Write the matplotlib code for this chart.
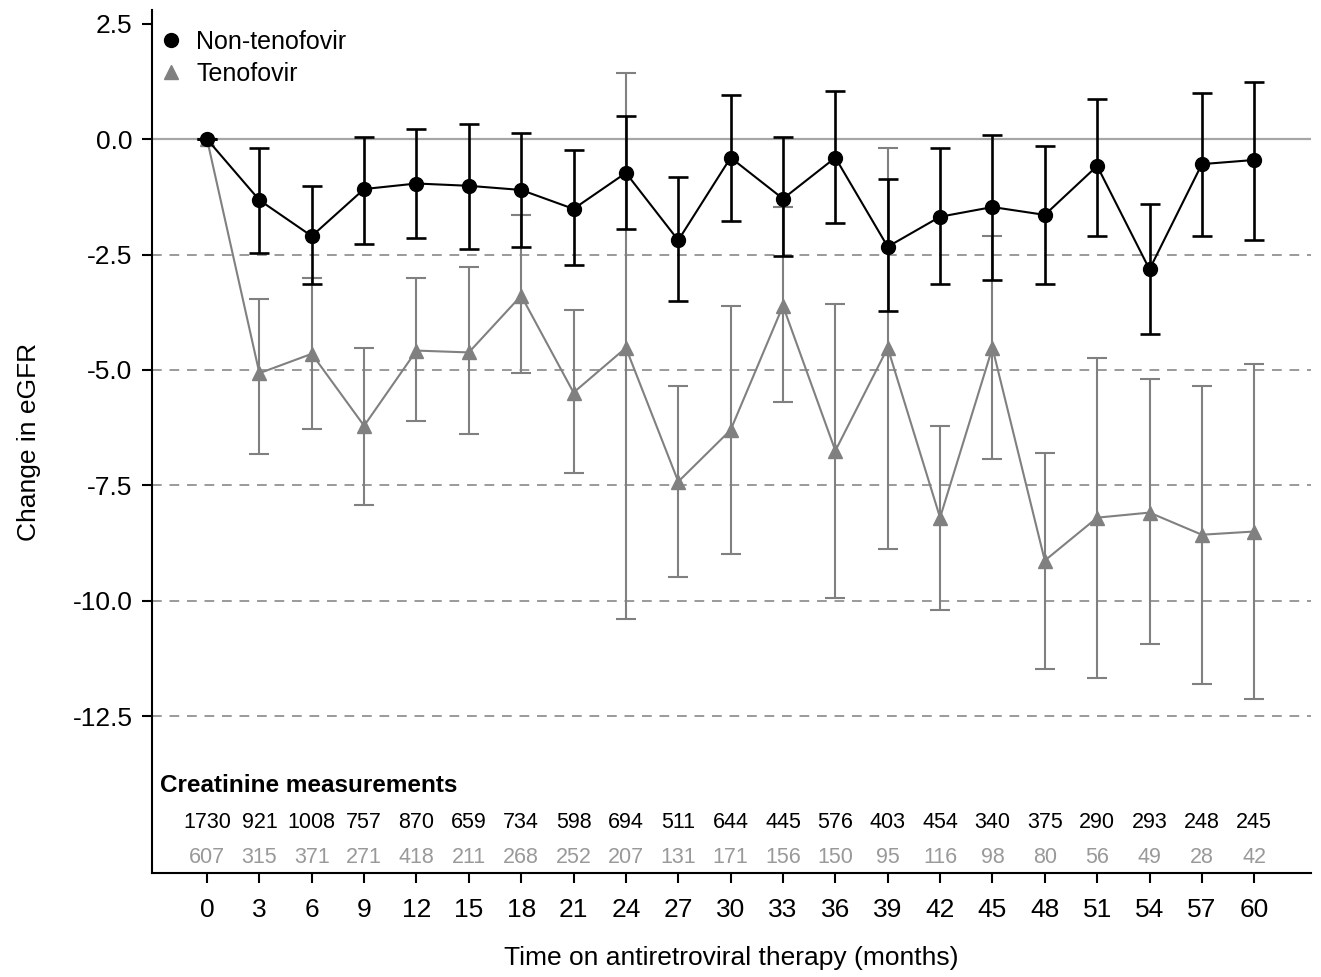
import numpy as np
import matplotlib.pyplot as plt
from matplotlib.lines import Line2D

plt.rcParams['font.family'] = ['Liberation Sans', 'DejaVu Sans']

# months on ART
months = [0, 3, 6, 9, 12, 15, 18, 21, 24, 27, 30, 33, 36, 39, 42, 45, 48, 51, 54, 57, 60]

# non-tenofovir: mean change in eGFR and CI limits
non_mean = [0.0, -1.32, -2.10, -1.08, -0.96, -1.01, -1.10, -1.51, -0.73, -2.19, -0.40,
            -1.29, -0.40, -2.33, -1.68, -1.47, -1.64, -0.58, -2.82, -0.54, -0.45]
non_upper = [0.0, -0.19, -1.01, 0.05, 0.23, 0.32, 0.13, -0.24, 0.50, -0.81, 0.95,
             0.05, 1.05, -0.87, -0.18, 0.09, -0.15, 0.87, -1.41, 1.00, 1.23]
non_lower = [0.0, -2.46, -3.14, -2.28, -2.15, -2.37, -2.33, -2.73, -1.95, -3.50, -1.77,
             -2.54, -1.81, -3.72, -3.14, -3.05, -3.14, -2.10, -4.22, -2.10, -2.19]

# tenofovir
ten_mean = [0.0, -5.07, -4.65, -6.21, -4.58, -4.62, -3.39, -5.49, -4.52, -7.42, -6.30,
            -3.61, -6.75, -4.52, -8.20, -4.52, -9.13, -8.20, -8.09, -8.57, -8.50]
ten_upper = [0.0, -3.46, -3.00, -4.52, -3.00, -2.77, -1.64, -3.70, 1.43, -5.34, -3.61,
             -1.47, -3.57, -0.19, -6.21, -2.10, -6.80, -4.74, -5.19, -5.34, -4.87]
ten_lower = [0.0, -6.82, -6.28, -7.92, -6.10, -6.38, -5.06, -7.23, -10.39, -9.48, -8.98,
             -5.69, -9.94, -8.87, -10.20, -6.93, -11.47, -11.67, -10.93, -11.80, -12.12]

# number of creatinine measurements
n_non = [1730, 921, 1008, 757, 870, 659, 734, 598, 694, 511, 644, 445, 576, 403, 454,
         340, 375, 290, 293, 248, 245]
n_ten = [607, 315, 371, 271, 418, 211, 268, 252, 207, 131, 171, 156, 150, 95, 116,
         98, 80, 56, 49, 28, 42]

x = np.array(months)
gray = '#808080'

fig = plt.figure(figsize=(13.21, 9.77), dpi=100)
ax = fig.add_axes([0.1151, 0.1064, 0.8773, 0.8834])

# reference lines
ax.axhline(0, color='#a6a6a6', lw=1.6, zorder=1)
for yv in [-2.5, -5, -7.5, -10, -12.5]:
    ax.axhline(yv, color='#9a9a9a', lw=1.4, ls=(0, (5, 4)), zorder=1)

non_err = [np.array(non_mean) - np.array(non_lower), np.array(non_upper) - np.array(non_mean)]
ten_err = [np.array(ten_mean) - np.array(ten_lower), np.array(ten_upper) - np.array(ten_mean)]

ax.errorbar(x, ten_mean, yerr=ten_err, color=gray, ecolor=gray, lw=1.5, elinewidth=1.5,
            capsize=7.5, capthick=1.5, marker='^', markersize=10, zorder=2)
ax.errorbar(x, non_mean, yerr=non_err, color='black', ecolor='black', lw=1.5, elinewidth=1.9,
            capsize=7.5, capthick=1.9, marker='o', markersize=10, zorder=3)

ax.set_xlim(-3.15, 63.25)
ax.set_ylim(-15.9, 2.8)
ax.set_xticks(months)
ax.set_yticks([2.5, 0, -2.5, -5, -7.5, -10, -12.5])
ax.set_yticklabels(['2.5', '0.0', '-2.5', '-5.0', '-7.5', '-10.0', '-12.5'])
ax.tick_params(axis='both', labelsize=19, length=7, width=1.5, direction='out')
ax.tick_params(axis='x', pad=11)
ax.tick_params(axis='y', pad=7)
for s in ['top', 'right']:
    ax.spines[s].set_visible(False)
for s in ['left', 'bottom']:
    ax.spines[s].set_linewidth(1.5)

ax.set_xlabel('Time on antiretroviral therapy (months)', fontsize=19, labelpad=17)
ax.set_ylabel('Change in eGFR', fontsize=19, labelpad=23)

# counts table
tr = ax.get_xaxis_transform()
ax.text(0.007, 0.102, 'Creatinine measurements', transform=ax.transAxes, fontsize=17.5,
        fontweight='bold', va='center', ha='left')
for m, a, b in zip(months, n_non, n_ten):
    ax.text(m, 0.059, str(a), transform=tr, fontsize=15.5, ha='center', va='center', color='black')
    ax.text(m, 0.0185, str(b), transform=tr, fontsize=15.5, ha='center', va='center', color='#999999')

handles = [Line2D([], [], ls='none', marker='o', color='black', markersize=10),
           Line2D([], [], ls='none', marker='^', color=gray, markersize=10)]
ax.legend(handles, ['Non-tenofovir', 'Tenofovir'], loc='upper left', frameon=False, fontsize=18,
          handlelength=0.6, handletextpad=0.7, borderaxespad=0.4, labelspacing=0.33,
          bbox_to_anchor=(-0.007, 1.0))

fig.savefig('out.png', dpi=100)
